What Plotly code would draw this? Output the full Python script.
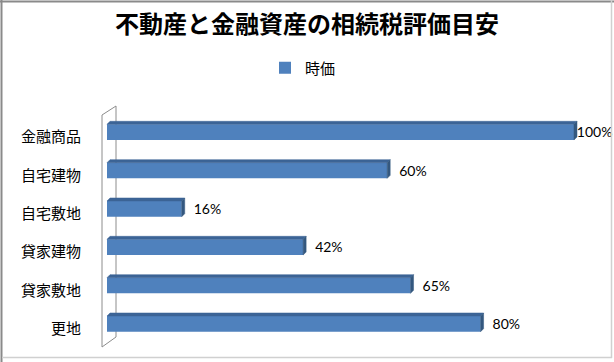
import plotly.graph_objects as go

# ---- data ----
categories = ["金融商品", "自宅建物", "自宅敷地", "貸家建物", "貸家敷地", "更地"]
values = [100, 60, 16, 42, 65, 80]
series_name = "時価"
chart_title = "不動産と金融資産の相続税評価目安"

# ---- geometry (pixels) ----
W, H = 614, 362
L, R, T, B = 102, 14, 113, 19
PW, PH = W - L - R, H - T - B
X0, X1 = -1.07, 105.57
ux = PW / (X1 - X0)            # px per value unit
uy = PH / len(categories)      # px per category
BAR_W = 0.41
DX, DY = 3 / ux, 3 / uy        # 3D depth offset in data units

FRONT = "#4F81BD"
TOP = "#3C6496"
SIDE = "#34587F"

pos = list(range(len(categories)))

def px(xp):
    return (xp - L) / PW

def py(yp):
    return (H - B - yp) / PH

fig = go.Figure()

fig.add_trace(go.Bar(
    x=values, y=pos, orientation="h", width=BAR_W,
    marker=dict(color=FRONT, line=dict(width=0)),
    name=series_name, showlegend=True, hoverinfo="x+y",
))

# 3D faces built from the data values
tx, ty, sx, sy = [], [], [], []
for i, v in zip(pos, values):
    yt = i - BAR_W / 2
    yb = i + BAR_W / 2
    tx += [0, v, v + DX, DX, 0, None]
    ty += [yt, yt, yt - DY, yt - DY, yt, None]
    sx += [v, v + DX, v + DX, v, v, None]
    sy += [yt, yt - DY, yb - DY, yb, yt, None]

fig.add_trace(go.Scatter(x=tx, y=ty, mode="lines", fill="toself",
                         fillcolor=TOP, line=dict(width=0.5, color=TOP),
                         showlegend=False, hoverinfo="skip"))
fig.add_trace(go.Scatter(x=sx, y=sy, mode="lines", fill="toself",
                         fillcolor=SIDE, line=dict(width=0.5, color=SIDE),
                         showlegend=False, hoverinfo="skip"))

# data labels
lab_x = [min(v + 2.57, 100.6) for v in values]
fig.add_trace(go.Scatter(
    x=lab_x, y=[p + 0.04 for p in pos], mode="text",
    text=[f"{v}%" for v in values], textposition="middle right",
    textfont=dict(family="Lato, Liberation Sans, sans-serif", size=14, color="#000000"),
    showlegend=False, hoverinfo="skip", cliponaxis=False,
))

shapes = []
# 3D wall of the category axis
wall = dict(type="line", xref="paper", yref="paper", layer="below",
            line=dict(color="#8C8C8C", width=1))
shapes.append({**wall, "x0": px(102), "y0": py(115), "x1": px(102), "y1": py(347)})
shapes.append({**wall, "x0": px(116), "y0": py(106), "x1": px(116), "y1": py(337)})
shapes.append({**wall, "x0": px(102), "y0": py(115), "x1": px(116), "y1": py(106)})
shapes.append({**wall, "x0": px(102), "y0": py(347), "x1": px(116), "y1": py(337)})
# chart frame
shapes.append(dict(type="line", xref="paper", yref="paper", x0=px(1.5), y0=py(0), x1=px(1.5), y1=py(362),
                   line=dict(color="#8A8A8A", width=2)))
shapes.append(dict(type="line", xref="paper", yref="paper", x0=px(0), y0=py(1.5), x1=px(614), y1=py(1.5),
                   line=dict(color="#8A8A8A", width=2)))
shapes.append(dict(type="line", xref="paper", yref="paper", x0=px(611.5), y0=py(0), x1=px(611.5), y1=py(358),
                   line=dict(color="#D0D0D0", width=1.5)))
shapes.append(dict(type="line", xref="paper", yref="paper", x0=px(2), y0=py(357.5), x1=px(612), y1=py(357.5),
                   line=dict(color="#D0D0D0", width=1.5)))

fig.update_layout(
    width=W, height=H,
    margin=dict(l=L, r=R, t=T, b=B, pad=0),
    paper_bgcolor="#FFFFFF",
    plot_bgcolor="rgba(0,0,0,0)",
    title=dict(text=f"<b>{chart_title}</b>", x=0.5, xanchor="center", xref="container",
               y=1 - 25 / H, yanchor="middle", yref="container",
               font=dict(family="Noto Sans CJK JP", size=24, color="#000000")),
    legend=dict(orientation="h", x=px(303), xanchor="center", y=py(68), yanchor="middle",
                font=dict(family="Noto Sans CJK JP", size=15, color="#000000"),
                itemwidth=30, bgcolor="rgba(0,0,0,0)"),
    xaxis=dict(range=[X0, X1], showgrid=False, zeroline=False, showline=False,
               showticklabels=False, ticks=""),
    yaxis=dict(range=[len(categories) - 0.5, -0.5], tickvals=[p + 0.13 for p in pos],
               ticktext=categories, showgrid=False, zeroline=False, showline=False,
               ticks="outside", ticklen=17, tickcolor="rgba(0,0,0,0)",
               tickfont=dict(family="Noto Sans CJK JP", size=15, color="#000000")),
    shapes=shapes,
    bargap=0.2,
    showlegend=True,
)

fig.write_html(
    "out.html",
    config={"displayModeBar": False},
    post_script="document.body.style.margin='0';document.body.style.padding='0';",
)
